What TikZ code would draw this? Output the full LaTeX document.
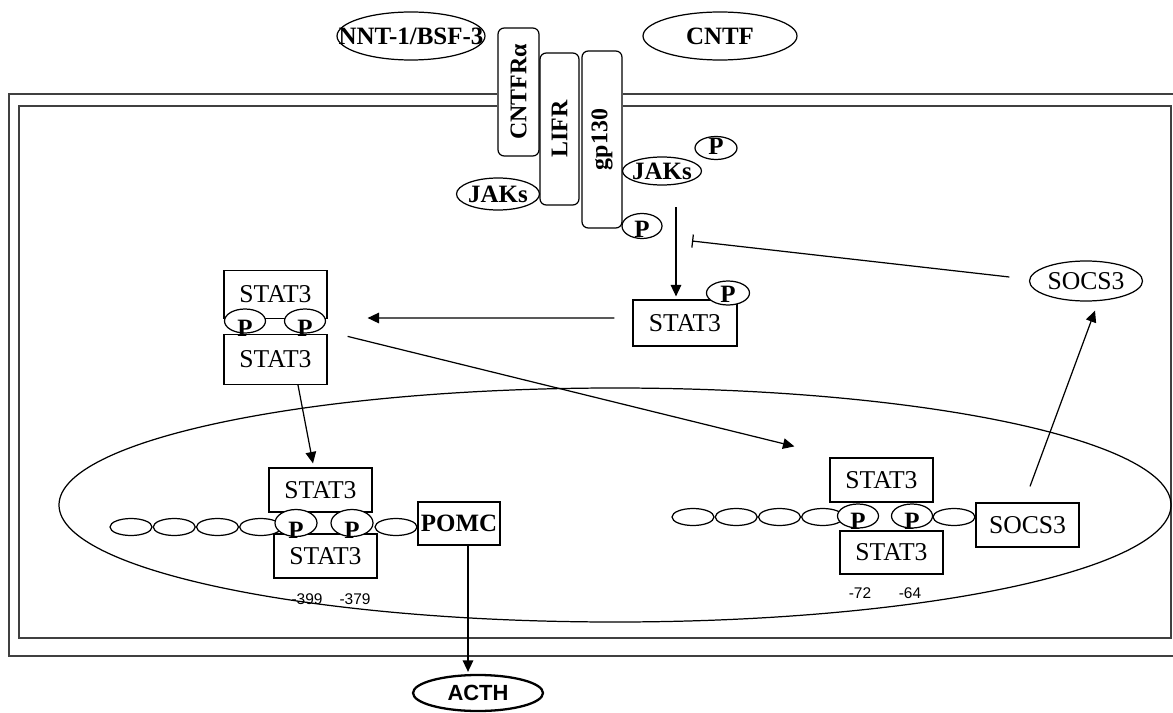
\documentclass[tikz,border=0pt]{standalone}
\usepackage{fontspec}
\setmainfont{Liberation Serif}
\newfontfamily\arialfont{Liberation Sans}
\usetikzlibrary{arrows.meta}
\usetikzlibrary{positioning}
\usetikzlibrary{shapes.geometric}

\begin{document}
\begin{tikzpicture}[
    x=0.02cm, y=-0.02cm,
    every node/.style={inner sep=0pt, font=\fontsize{14.6}{17}\selectfont},
    lbl/.style={draw, ellipse, line width=0.7pt, inner xsep=-5pt, font=\fontsize{14.2}{17}\selectfont\bfseries},
    receptor/.style={draw, rounded corners=3.5pt, rotate=90, fill=white, line width=0.7pt, font=\fontsize{13.6}{16}\selectfont\bfseries},
    statbox/.style={draw, rectangle, line width=0.7pt, minimum width=2.06cm, minimum height=0.88cm},
    pell/.style={draw, ellipse, fill=white, line width=0.7pt, minimum width=0.82cm, minimum height=0.48cm,
        label={[font=\fontsize{14.2}{17}\selectfont\bfseries, yshift=#1]center:P}},
    pell/.default=-1.5pt,
    dna/.style={draw, ellipse, line width=0.7pt, minimum width=0.84cm, minimum height=0.34cm},
    site/.style={font=\arialfont\fontsize{8.8}{10}\selectfont},
    arr/.style={draw, line width=0.7pt, -{Triangle[length=6.5pt, width=6pt]}},
    membrane/.style={draw, line width=1.1pt, black!75}
]
    \useasboundingbox (0,0) rectangle (1173,713);

    % Cell membrane (double line)
    \draw[membrane] (497,94) -- (9,94) -- (9,656) -- (1173,656);
    \draw[membrane] (623,94) -- (1173,94);
    \draw[membrane] (497,106) -- (19,106) -- (19,638) -- (1171,638) -- (1171,106) -- (623,106);

    % Nucleus
    \draw[line width=0.7pt] (615,505) ellipse [x radius=556, y radius=117];

    % Ligands
    \node[lbl, inner xsep=-13pt, minimum width=2.96cm, minimum height=0.96cm] (nnt) at (411,36) {NNT-1/BSF-3};
    \node[lbl, minimum width=3.08cm, minimum height=0.96cm] (cntf) at (720,36) {CNTF};

    % Receptors
    \node[receptor, minimum width=2.56cm, minimum height=0.82cm] (cntfr) at (518.5,92) {CNTFRα};
    \node[receptor, minimum width=3.04cm, minimum height=0.78cm] (lifr) at (559.5,129) {LIFR};
    \node[receptor, minimum width=3.54cm, minimum height=0.8cm] (gp) at (602,139.5) {gp130};

    % JAKs and phosphates
    \node[lbl, minimum width=1.66cm, minimum height=0.64cm] (jakL) at (498,194) {JAKs};
    \node[lbl, minimum width=1.58cm, minimum height=0.56cm] (jakR) at (662,171) {JAKs};
    \node[pell=1pt, minimum width=0.84cm, minimum height=0.46cm] (pR) at (716,148) {};
    \node[pell=-2pt, minimum width=0.8cm, minimum height=0.5cm] (pG) at (642,226) {};

    % Phosphorylated STAT3
    \node[statbox, minimum width=2.08cm, minimum height=0.92cm] (stat) at (685,323) {STAT3};
    \node[pell=-1pt, minimum width=0.86cm] (statP) at (728,293) {};

    % STAT3 dimer
    \node[statbox, minimum height=0.96cm] (dimA) at (275.5,294.5) {STAT3};
    \node[statbox, minimum height=1cm] (dimB) at (275.5,359.5) {STAT3};
    \node[pell=-4pt] (dimP1) at (245,321) {};
    \node[pell=-4pt] (dimP2) at (305,321) {};

    % SOCS3 in cytoplasm
    \node[lbl, minimum width=2.26cm, minimum height=0.8cm, font=\fontsize{14.6}{17}\selectfont] (socsC) at (1086,281) {SOCS3};

    % Nucleus: POMC promoter
    \node[dna] (l1) at (131,527) {};
    \node[dna, right=0pt of l1] (l2) {};
    \node[dna, right=0pt of l2] (l3) {};
    \node[dna, right=0pt of l3] (l4) {};
    \node[statbox] (lsA) at (320.5,490) {STAT3};
    \node[statbox] (lsB) at (325.5,556) {STAT3};
    \node[pell=-4pt, minimum width=0.84cm, minimum height=0.54cm] (lP1) at (296,523) {};
    \node[pell=-4pt, minimum width=0.84cm, minimum height=0.54cm] (lP2) at (352,523) {};
    \node[dna] (l5) at (396,527) {};
    \node[statbox, minimum width=1.64cm, minimum height=0.86cm, font=\fontsize{14.2}{17}\selectfont\bfseries] (pomc) at (459,523.5) {POMC};
    \node[site] (s399) at (307,599) {-399};
    \node[site] (s379) at (355,599) {-379};

    % Nucleus: SOCS3 promoter
    \node[dna] (r1) at (693,517) {};
    \node[dna, right=0pt of r1] (r2) {};
    \node[dna, right=0pt of r2] (r3) {};
    \node[dna, right=0pt of r3] (r4) {};
    \node[statbox] (rsA) at (881.5,480) {STAT3};
    \node[statbox, minimum height=0.86cm] (rsB) at (891.5,552.5) {STAT3};
    \node[pell=-3pt] (rP1) at (858,516) {};
    \node[pell=-3pt] (rP2) at (912,516) {};
    \node[dna] (r5) at (954,517) {};
    \node[statbox] (socsN) at (1027.5,525) {SOCS3};
    \node[site] (s72) at (860,593) {-72};
    \node[site] (s64) at (910,593) {-64};

    % ACTH
    \node[draw, ellipse, line width=1.3pt, minimum width=2.6cm, minimum height=0.72cm,
        font=\arialfont\bfseries\fontsize{12.5}{14}\selectfont] (acth) at (478,693) {ACTH};

    % Signalling arrows
    \coordinate (sig) at (676,207);
    \draw[arr] (sig) -- ([shift={(0,-3)}]sig |- stat.north);
    \draw[arr] ([shift={(-18,-5)}]stat.west) -- ([shift={(40,23.5)}]dimA.east);
    \draw[arr] ([shift={(20,2.5)}]dimB.north east) -- ([shift={(-35,-11)}]rsA.north west);
    \draw[arr] ([shift={(22.5,0)}]dimB.south) -- ([shift={(-7.5,-4)}]lsA.north);
    \draw[arr] ([shift={(9,0)}]pomc.south) -- ([shift={(9,-2)}]pomc.south |- acth.north);
    \draw[arr] ([shift={(2.5,-16)}]socsN.north) -- ([shift={(9,9)}]socsC.south);

    % Feedback inhibition
    \draw[line width=0.7pt, -{Bar[width=7.5pt]}] ([shift={(-19.5,-4)}]socsC.west) -- ([shift={(16,34)}]sig);

\end{tikzpicture}
\end{document}
